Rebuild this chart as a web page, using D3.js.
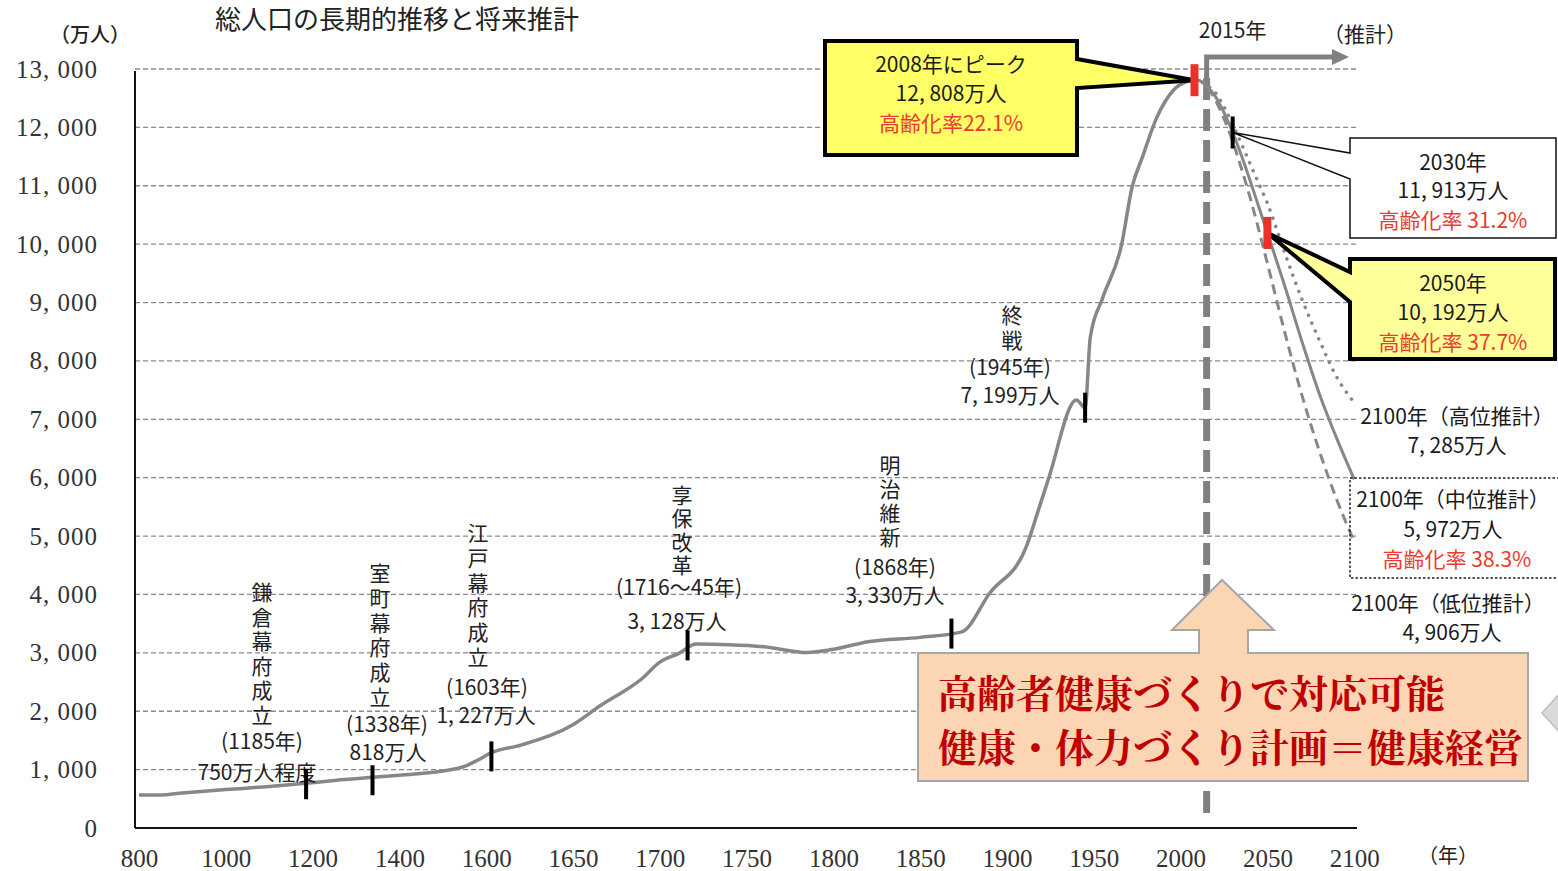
<!DOCTYPE html>
<html lang="ja">
<head>
<meta charset="utf-8">
<title>総人口の長期的推移と将来推計</title>
<script src="https://cdn.jsdelivr.net/npm/d3@7"></script>
<style>
  html, body { margin: 0; padding: 0; background: #fff; }
  svg { display: block; }
  .vert { writing-mode: vertical-rl; text-orientation: upright; }
</style>
</head>
<body>
<svg id="chart" width="1558" height="871"></svg>
<script>
// ---- data -------------------------------------------------------------
const yTicks = [0, 1000, 2000, 3000, 4000, 5000, 6000, 7000, 8000, 9000, 10000, 11000, 12000, 13000];
const xTicks = [800, 1000, 1200, 1400, 1600, 1650, 1700, 1750, 1800, 1850, 1900, 1950, 2000, 2050, 2100];

// historical population (万人)
const histYears = [800, 850, 900, 1000, 1100, 1185, 1250, 1338, 1400, 1450, 1500, 1550, 1580, 1603, 1620,
  1650, 1665, 1690, 1700, 1711, 1721, 1740, 1760, 1785, 1800, 1820, 1850, 1874, 1890, 1911, 1919, 1924,
  1940, 1945, 1948, 1955, 1966, 1972, 1978, 1986, 1996, 2004, 2008];
const histPop = [565, 565, 600, 660, 710, 765, 815, 870, 905, 935, 975, 1055, 1160, 1290, 1420,
  1770, 2080, 2565, 2840, 2990, 3150, 3140, 3105, 3005, 3060, 3190, 3265, 3360, 4020, 4810, 5530, 5990,
  7330, 7199, 8410, 9070, 9990, 10970, 11490, 12150, 12640, 12790, 12808];

// projections (万人)
const projYears = [2008, 2010, 2015, 2020, 2025, 2030, 2035, 2040, 2045, 2050, 2060, 2070, 2080, 2090, 2100];
const projMid  = [12808, 12806, 12709, 12532, 12254, 11913, 11522, 11092, 10642, 10192, 9284, 8323, 7430, 6668, 5972];
const projHigh = [12808, 12806, 12720, 12600, 12350, 12050, 11720, 11380, 11040, 10700, 9850, 9050, 8350, 7720, 7285];
const projLow  = [12808, 12806, 12700, 12470, 12150, 11760, 11300, 10800, 10250, 9670, 8490, 7400, 6450, 5620, 4906];

// historical events
const eventNames = ["鎌倉幕府成立", "室町幕府成立", "江戸幕府成立", "享保改革", "明治維新", "終戦"];
const eventYears = [1185, 1338, 1603, 1716, 1868, 1945];
const eventPops  = [750, 818, 1227, 3128, 3330, 7199];
const eventYearLabels = ["(1185年)", "(1338年)", "(1603年)", "(1716～45年)", "(1868年)", "(1945年)"];
const eventPopSuffix = ["万人程度", "万人", "万人", "万人", "万人", "万人"];

// key points of the projection
const keyYears = [2008, 2030, 2050];
const keyPops  = [12808, 11913, 10192];
const keyRates = ["22.1%", "31.2%", "37.7%"];
const rate2100Mid = "38.3%";
const baseYear = 2015;

const messageLines = ["高齢者健康づくりで対応可能", "健康・体力づくり計画＝健康経営"];

// ---- layout -----------------------------------------------------------
const svg = d3.select("#chart");
const plotL = 135, plotR = 1357, plotB = 828, plotT = 69;
const x0 = 139, step = 86.8;

const x = d3.scaleLinear()
  .domain([800, 1600, 2100])
  .range([x0, x0 + 4 * step, x0 + 14 * step]);
const y = d3.scaleLinear().domain([0, 13000]).range([plotB, plotT]);

const JP = '"Noto Sans CJK JP", "Noto Sans", sans-serif';
const SERIF = '"Liberation Serif", "DejaVu Serif", serif';
const RED = "#ec3a2d";
const LINE = "#878787";
const fmtMan = v => d3.format(",")(v).replace(",", ", ");

// title and unit labels
svg.append("text").attr("x", 215).attr("y", 20).attr("dy", "0.35em")
  .attr("font-family", JP).attr("font-size", 26).attr("fill", "#222")
  .text("総人口の長期的推移と将来推計");
svg.append("text").attr("x", 90).attr("y", 35).attr("dy", "0.35em").attr("text-anchor", "middle")
  .attr("font-family", JP).attr("font-size", 20).attr("font-weight", 500).attr("fill", "#222")
  .text("（万人）");
svg.append("text").attr("x", 1448).attr("y", 856).attr("dy", "0.35em").attr("text-anchor", "middle")
  .attr("font-family", JP).attr("font-size", 20).attr("fill", "#222")
  .text("（年）");

// gridlines
svg.append("g").selectAll("line")
  .data(yTicks.filter(d => d > 0))
  .join("line")
  .attr("x1", plotL).attr("x2", plotR)
  .attr("y1", d => y(d)).attr("y2", d => y(d))
  .attr("stroke", "#8a8a8a").attr("stroke-width", 1.3)
  .attr("stroke-dasharray", "5,3");

// y axis labels
const gy = svg.append("g").attr("transform", `translate(${plotL},0)`)
  .call(d3.axisLeft(y).tickValues(yTicks).tickSize(0).tickPadding(37)
    .tickFormat(d => d3.format(",")(d).replace(",", ", ")));
gy.select(".domain").remove();
gy.selectAll("text").attr("font-family", SERIF).attr("font-size", 25)
  .attr("fill", "#333").attr("letter-spacing", 1);

// x axis labels
const gx = svg.append("g").attr("transform", `translate(0,${plotB})`)
  .call(d3.axisBottom(x).tickValues(xTicks).tickSize(0).tickPadding(21).tickFormat(d3.format("d")));
gx.select(".domain").remove();
gx.selectAll("text").attr("font-family", SERIF).attr("font-size", 25).attr("fill", "#333");

// axis lines
svg.append("line").attr("x1", plotL).attr("x2", plotL).attr("y1", plotT + 2).attr("y2", plotB)
  .attr("stroke", "#111").attr("stroke-width", 2);
svg.append("line").attr("x1", plotL).attr("x2", plotR).attr("y1", plotB).attr("y2", plotB)
  .attr("stroke", "#111").attr("stroke-width", 2);

// 2015 divider with arrow to the projection side
const xb = x(baseYear);
svg.append("line").attr("x1", xb).attr("x2", xb).attr("y1", 78).attr("y2", 822)
  .attr("stroke", "#808080").attr("stroke-width", 7).attr("stroke-dasharray", "22,9");
svg.append("path").attr("d", `M${xb},80 V57 H1335`)
  .attr("fill", "none").attr("stroke", "#808080").attr("stroke-width", 5);
svg.append("path").attr("d", "M1332,49 L1349,57 L1332,65 Z").attr("fill", "#808080");
svg.append("text").attr("x", xb + 26).attr("y", 31).attr("dy", "0.35em").attr("text-anchor", "middle")
  .attr("font-family", JP).attr("font-size", 21).attr("fill", "#222").text(`${baseYear}年`);
svg.append("text").attr("x", 1365).attr("y", 35).attr("dy", "0.35em").attr("text-anchor", "middle")
  .attr("font-family", JP).attr("font-size", 21).attr("fill", "#222").text("（推計）");

// population lines
const line = d3.line().x(d => x(d[0])).y(d => y(d[1])).curve(d3.curveMonotoneX);
const series = (ys, vs) => ys.map((yr, i) => [yr, vs[i]]);

svg.append("path").datum(series(projYears, projHigh)).attr("d", line)
  .attr("fill", "none").attr("stroke", LINE).attr("stroke-width", 3.5)
  .attr("stroke-linecap", "round").attr("stroke-dasharray", "0.1,8.5");
svg.append("path").datum(series(projYears, projLow)).attr("d", line)
  .attr("fill", "none").attr("stroke", LINE).attr("stroke-width", 3)
  .attr("stroke-dasharray", "10,6");
svg.append("path").datum(series(projYears, projMid)).attr("d", line)
  .attr("fill", "none").attr("stroke", LINE).attr("stroke-width", 3);
svg.append("path").datum(series(histYears, histPop)).attr("d", line)
  .attr("fill", "none").attr("stroke", LINE).attr("stroke-width", 3.5);

// historical event labels: vertical name, then year and population
const NAME_SIZE = 21;
const eventLayout = [
  { cx: 262, top: 592, gap: 24.6, yx: 262, yy: 742, px: 257, py: 773 },
  { cx: 380, top: 573, gap: 24.8, yx: 387, yy: 725, px: 388, py: 753 },
  { cx: 478, top: 533, gap: 24.8, yx: 487, yy: 688, px: 486, py: 716 },
  { cx: 682, top: 495, gap: 23.5, yx: 679, yy: 588, px: 677, py: 622 },
  { cx: 890, top: 465, gap: 24.0, yx: 895, yy: 568, px: 895, py: 596 },
  { cx: 1012, top: 315, gap: 25.0, yx: 1010, yy: 368, px: 1010, py: 396 }
];
const gEv = svg.append("g").attr("font-family", JP).attr("font-size", NAME_SIZE).attr("fill", "#222");
eventNames.forEach((name, i) => {
  const L = eventLayout[i];
  gEv.append("text").attr("class", "vert")
    .attr("x", L.cx).attr("y", L.top - NAME_SIZE / 2)
    .attr("letter-spacing", L.gap - NAME_SIZE)
    .text(name);
  gEv.append("text").attr("text-anchor", "middle")
    .attr("x", L.yx).attr("y", L.yy).attr("dy", "0.35em").text(eventYearLabels[i]);
  gEv.append("text").attr("text-anchor", "middle")
    .attr("x", L.px).attr("y", L.py).attr("dy", "0.35em")
    .text(fmtMan(eventPops[i]) + eventPopSuffix[i]);
});

// event ticks on the line
svg.append("g").selectAll("line")
  .data(eventYears.map((yr, i) => [yr, eventPops[i]]))
  .join("line")
  .attr("x1", d => x(d[0])).attr("x2", d => x(d[0]))
  .attr("y1", d => y(d[1]) - 15).attr("y2", d => y(d[1]) + 15)
  .attr("stroke", "#000").attr("stroke-width", 4);

// ---- callouts ---------------------------------------------------------
const tip = i => [x(keyYears[i]), y(keyPops[i])];

// 2008 peak
{
  const [tx, ty] = tip(0);
  svg.append("path")
    .attr("d", `M825,41 H1077 V59 L${tx},${ty} L1077,88 V155 H825 Z`)
    .attr("fill", "#ffff66").attr("stroke", "#000").attr("stroke-width", 4)
    .attr("stroke-linejoin", "miter");
}
// 2030
{
  const [tx, ty] = tip(1);
  svg.append("path")
    .attr("d", `M1350,138 H1556 V238 H1350 V179 L${tx},${ty} L1350,153 Z`)
    .attr("fill", "#fff").attr("stroke", "#111").attr("stroke-width", 1.5);
}
// 2050
{
  const [tx, ty] = tip(2);
  svg.append("path")
    .attr("d", `M1350,259 H1555 V359 H1350 V302 L${tx},${ty} L1350,272 Z`)
    .attr("fill", "#ffff99").attr("stroke", "#000").attr("stroke-width", 4);
}
// 2100 medium
svg.append("rect").attr("x", 1350).attr("y", 478).attr("width", 215).attr("height", 100)
  .attr("fill", "none").attr("stroke", "#222").attr("stroke-width", 1.5)
  .attr("stroke-dasharray", "2.5,2");

// key point marks
svg.append("g").selectAll("rect")
  .data(keyYears.map((yr, i) => ({ yr, v: keyPops[i], red: i !== 1 })))
  .join("rect")
  .attr("x", d => x(d.yr) - (d.red ? 4 : 2)).attr("width", d => d.red ? 8 : 4)
  .attr("y", d => y(d.v) - 16).attr("height", 32)
  .attr("fill", d => d.red ? "#e8322a" : "#000");

// callout texts
const gT = svg.append("g").attr("font-family", JP).attr("font-size", 21).attr("text-anchor", "middle");
const addText = (tx, ty, s, fill) =>
  gT.append("text").attr("x", tx).attr("y", ty).attr("dy", "0.35em").attr("fill", fill || "#1a1a1a").text(s);

addText(951, 65, `${keyYears[0]}年にピーク`);
addText(951, 94, `${fmtMan(keyPops[0])}万人`);
addText(951, 124, `高齢化率${keyRates[0]}`, RED);

addText(1453, 163, `${keyYears[1]}年`);
addText(1453, 191, `${fmtMan(keyPops[1])}万人`);
addText(1453, 221, `高齢化率 ${keyRates[1]}`, RED);

addText(1453, 284, `${keyYears[2]}年`);
addText(1453, 313, `${fmtMan(keyPops[2])}万人`);
addText(1453, 343, `高齢化率 ${keyRates[2]}`, RED);

const last = projYears.length - 1;
addText(1457, 417, `${projYears[last]}年（高位推計）`);
addText(1457, 446, `${fmtMan(projHigh[last])}万人`);
addText(1453, 500, `${projYears[last]}年（中位推計）`);
addText(1453, 530, `${fmtMan(projMid[last])}万人`);
addText(1457, 560, `高齢化率 ${rate2100Mid}`, RED);
addText(1448, 604, `${projYears[last]}年（低位推計）`);
addText(1452, 633, `${fmtMan(projLow[last])}万人`);

// up-arrow callout with message
svg.append("path")
  .attr("d", "M918,653 H1199 V630 H1172 L1222,580 L1274,630 H1248 V653 H1528 V781 H918 Z")
  .attr("fill", "#fcd5b4").attr("stroke", "#a6a6a6").attr("stroke-width", 2);
const gMsg = svg.append("g")
  .attr("font-family", '"Noto Serif CJK JP", "Noto Sans CJK JP", serif')
  .attr("font-size", 39).attr("font-weight", 700).attr("fill", "#c00000");
messageLines.forEach((s, i) => {
  gMsg.append("text").attr("x", 938).attr("y", 694 + i * 54).attr("dy", "0.35em").text(s);
});

// partial grey pointer at the right edge
svg.append("path").attr("d", "M1542,713 L1562,691 L1562,735 Z")
  .attr("fill", "#d9d9d9").attr("stroke", "#bdbdbd").attr("stroke-width", 1.5);
</script>
</body>
</html>
